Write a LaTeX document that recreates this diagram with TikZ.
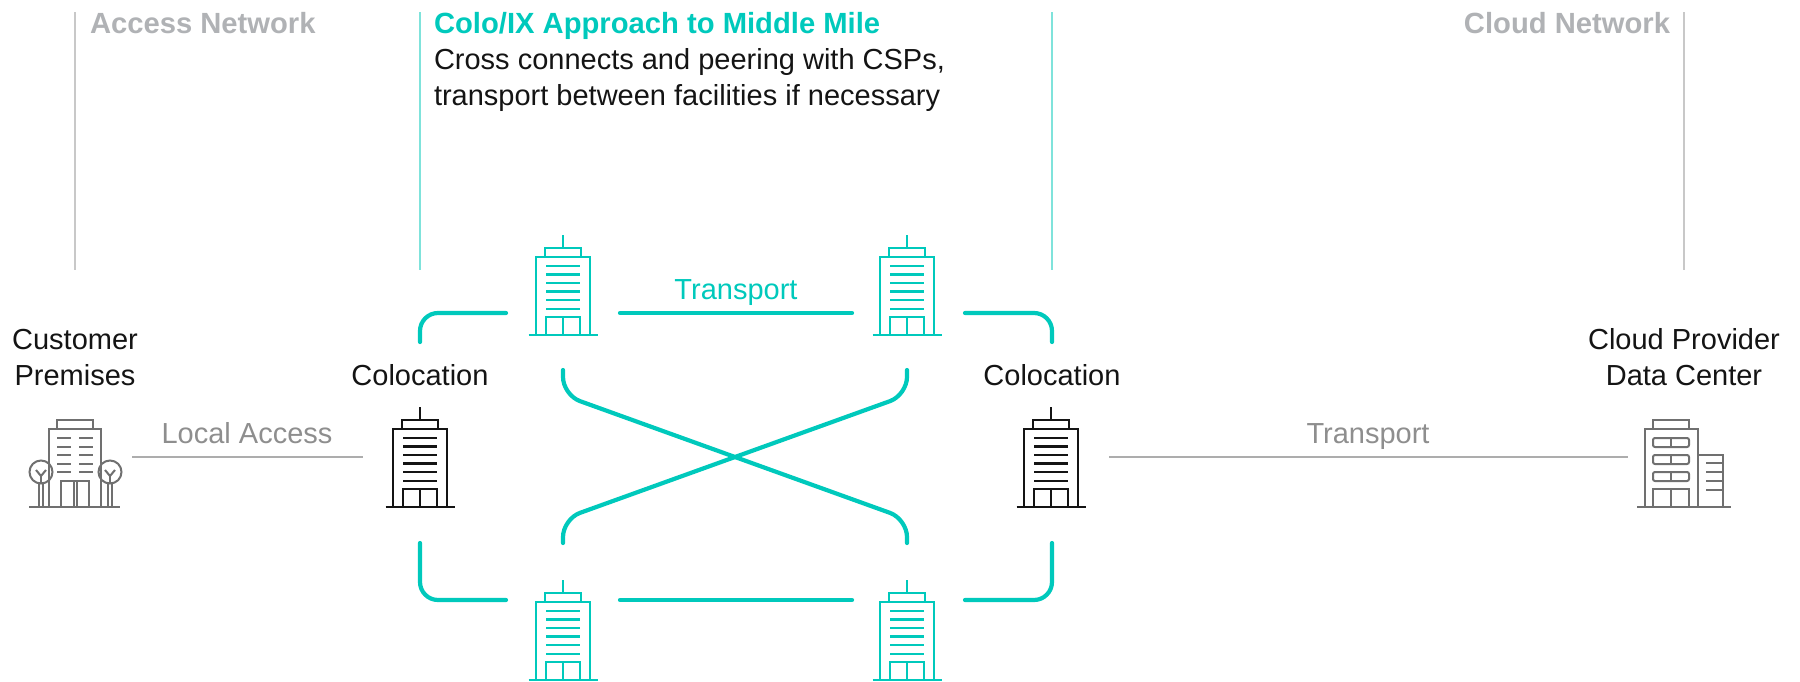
\documentclass[tikz,border=0pt]{standalone}
\usepackage{fontspec}
\setmainfont{Liberation Sans}
\definecolor{tealmain}{HTML}{00C9BC}
\definecolor{teallight}{HTML}{7FE3DB}
\definecolor{rulegrey}{HTML}{C8C8C8}
\definecolor{linegrey}{HTML}{ADADAD}
\definecolor{labelgrey}{HTML}{8E8E8E}
\definecolor{headgrey}{HTML}{B0B2B5}
\definecolor{icongrey}{HTML}{707070}
\definecolor{inkblack}{HTML}{141414}
\tikzset{
  x=0.5pt,y=-0.5pt,
  lbl/.style={font=\fontsize{14.5}{17}\selectfont,anchor=base,inner sep=0pt,outer sep=0pt},
  headlbl/.style={font=\fontsize{14.6}{17}\selectfont\bfseries,anchor=base west,inner sep=0pt,outer sep=0pt},
  guide/.style={line width=0.75pt},
  thinlink/.style={line width=1.25pt,linegrey},
  teallink/.style={line width=2.1pt,tealmain,line cap=round,rounded corners=9pt},
  pics/towericon/.style={code={
    \draw[line width=1.25pt] (0,-100)--(0,-87);
    \draw[line width=1.25pt] (-18,-78)--(-18,-87)--(18,-87)--(18,-78);
    \draw[line width=1.25pt] (-27,0)--(-27,-78)--(27,-78)--(27,0);
    \foreach \yy in {-69,-60.5,-52,-43.5,-35,-26}{\draw[line width=1.25pt] (-17,\yy)--(17,\yy);}
    \draw[line width=1.25pt] (-17,0)--(-17,-18)--(17,-18)--(17,0);
    \draw[line width=1.25pt] (0,-18)--(0,0);
    \draw[line width=1.25pt] (-34.5,0)--(34.5,0);
  }},
}
\begin{document}
\begin{tikzpicture}
\useasboundingbox (0,0) rectangle (1800,681);

% boundary guides
\coordinate (ga1) at (75,12);   \coordinate (ga2) at (75,270);
\coordinate (gb1) at (420,12);  \coordinate (gb2) at (420,270);
\coordinate (gc1) at (1052,12); \coordinate (gc2) at (1052,270);
\coordinate (gd1) at (1684,12); \coordinate (gd2) at (1684,270);
\draw[guide,rulegrey] (ga1)--(ga2);
\draw[guide,teallight] (gb1)--(gb2);
\draw[guide,teallight] (gc1)--(gc2);
\draw[guide,rulegrey] (gd1)--(gd2);

% headings
\node[headlbl,headgrey] (hAccess) at (90,33) {Access Network};
\node[headlbl,tealmain] (hColo) at (434,33) {Colo/IX Approach to Middle Mile};
\node[lbl,anchor=base west,inkblack] (hLine1) at (434,69) {Cross connects and peering with CSPs,};
\node[lbl,anchor=base west,inkblack] (hLine2) at (434,105) {transport between facilities if necessary};
\node[headlbl,headgrey,anchor=base east] (hCloud) at (1670,33) {Cloud Network};

% labels
\node[lbl,inkblack] (lCust1) at (75,349) {Customer};
\node[lbl,inkblack] (lCust2) at (75,385) {Premises};
\node[lbl,inkblack] (lColoL) at (420,385) {Colocation};
\node[lbl,inkblack] (lColoR) at (1052,385) {Colocation};
\node[lbl,inkblack] (lCloud1) at (1684,349) {Cloud Provider};
\node[lbl,inkblack] (lCloud2) at (1684,385) {Data Center};
\node[lbl,labelgrey] (lLocal) at (247,443) {Local Access};
\node[lbl,labelgrey] (lTransR) at (1368,443) {Transport};
\node[lbl,tealmain] (lTransT) at (736,299) {Transport};

% towers
\pic[color=inkblack] at (420,507) {towericon};
\pic[color=inkblack] at (1051,507) {towericon};
\pic[color=tealmain] at (563,335) {towericon};
\pic[color=tealmain] at (907,335) {towericon};
\pic[color=tealmain] at (563,680) {towericon};
\pic[color=tealmain] at (907,680) {towericon};

% customer premises icon
\begin{scope}[icongrey,line width=1pt]
  \draw (57,429)--(57,420)--(93,420)--(93,429);
  \draw (49,507)--(49,429)--(101,429)--(101,507);
  \foreach \yy in {438,447,455,464,472}{
    \draw (57,\yy)--(71,\yy);
    \draw (79,\yy)--(93,\yy);
  }
  \draw (61,507)--(61,481)--(89,481)--(89,507);
  \draw (73.5,481)--(73.5,507);
  \draw (76.5,481)--(76.5,507);
  \foreach \tx in {41,110}{
    \draw (\tx,472) circle[radius=11.5];
    \draw (\tx-5,470)--(\tx,476)--(\tx+5,470);
    \draw (\tx,476)--(\tx,483.5);
    \draw (\tx-1.7,483.5)--(\tx-1.7,507);
    \draw (\tx+1.7,483.5)--(\tx+1.7,507);
  }
  \draw (29,507)--(120,507);
\end{scope}

% cloud data centre icon
\begin{scope}[icongrey,line width=1pt]
  \draw (1653,429)--(1653,420)--(1689,420)--(1689,429);
  \draw (1645,507)--(1645,429)--(1698,429)--(1698,507);
  \foreach \yy in {438,455,472}{
    \draw[rounded corners=1pt] (1653,\yy) rectangle (1689,\yy+9);
    \draw (1671,\yy)--(1671,\yy+9);
  }
  \draw (1653,507)--(1653,489)--(1689,489)--(1689,507);
  \draw (1671,489)--(1671,507);
  \draw (1698,455)--(1723,455)--(1723,507);
  \foreach \yy in {463,472,481,490}{\draw (1706,\yy)--(1723,\yy);}
  \draw (1637,507)--(1731,507);
\end{scope}

% grey links
\coordinate (a1) at (132,457); \coordinate (a2) at (363,457);
\coordinate (b1) at (1109,457); \coordinate (b2) at (1628,457);
\draw[thinlink] (a1)--(a2);
\draw[thinlink] (b1)--(b2);

% teal link end points
\coordinate (tlA) at (420,342);  \coordinate (tlC) at (420,313);  \coordinate (tlB) at (506,313);
\coordinate (tmA) at (620,313);  \coordinate (tmB) at (852,313);
\coordinate (trA) at (965,313);  \coordinate (trC) at (1052,313); \coordinate (trB) at (1052,342);
\coordinate (blA) at (420,543);  \coordinate (blC) at (420,600);  \coordinate (blB) at (506,600);
\coordinate (bmA) at (620,600);  \coordinate (bmB) at (852,600);
\coordinate (brA) at (965,600);  \coordinate (brC) at (1052,600); \coordinate (brB) at (1052,543);
\coordinate (x1a) at (563,370);  \coordinate (x1b) at (563,395);  \coordinate (x1c) at (907,519); \coordinate (x1d) at (907,543);
\coordinate (x2a) at (907,370);  \coordinate (x2b) at (907,395);  \coordinate (x2c) at (563,519); \coordinate (x2d) at (563,543);

\draw[teallink] (tlA)--(tlC)--(tlB);
\draw[teallink] (tmA)--(tmB);
\draw[teallink] (trA)--(trC)--(trB);
\draw[teallink] (blA)--(blC)--(blB);
\draw[teallink] (bmA)--(bmB);
\draw[teallink] (brA)--(brC)--(brB);
\draw[teallink] (x1a)--(x1b)--(x1c)--(x1d);
\draw[teallink] (x2a)--(x2b)--(x2c)--(x2d);
\end{tikzpicture}
\end{document}
